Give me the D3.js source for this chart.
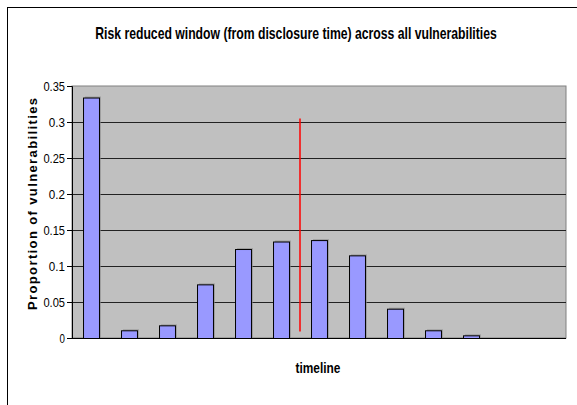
<!DOCTYPE html>
<html><head><meta charset="utf-8">
<script src="https://cdn.jsdelivr.net/npm/d3@7"></script>
<style>body{margin:0;background:#fff}svg{display:block}</style>
</head><body>
<script>
const categories = ["1","2","3","4","5","6","7","8","9","10","11","12","13"];
const values = [0.334, 0.0107, 0.0176, 0.0745, 0.1236, 0.134, 0.136, 0.1148, 0.0407, 0.0107, 0.0037, 0, 0];
const yTicks = [0, 0.05, 0.1, 0.15, 0.2, 0.25, 0.3, 0.35];
const yTickLabels = ["0", "0.05", "0.1", "0.15", "0.2", "0.25", "0.3", "0.35"];
const markerAfter = "6";
const markerRange = [0.009, 0.305];
const title = "Risk reduced window (from disclosure time) across all vulnerabilities";
const xLabel = "timeline";
const yLabel = "Proportion of vulnerabilities";

const W = 577, H = 405;
const svg = d3.select("body").append("svg").attr("width", W).attr("height", H);
const m = {left: 72, right: 566, top: 86, bottom: 338};
const narrow = "'Liberation Sans Narrow', 'Arial Narrow', Arial, 'Liberation Sans', sans-serif";

// condensed text helper: scale horizontally to a target width
function condensed(g, cx, cy, txt, size, targetW) {
  const grp = g.append("g");
  const t = grp.append("text").attr("x", 0).attr("y", 0).attr("text-anchor", "middle")
    .attr("font-family", narrow).attr("font-weight", "bold").attr("font-size", size).text(txt);
  const w = t.node().getComputedTextLength();
  const s = Math.min(1, targetW / w);
  grp.attr("transform", `translate(${cx},${cy}) scale(${s},1)`);
  return t;
}

// outer frame
svg.append("rect").attr("x", 7.5).attr("y", 7.5).attr("width", W + 10).attr("height", H + 10)
  .attr("fill", "#fff").attr("stroke", "#000").attr("stroke-width", 1);

const x = d3.scaleBand().domain(categories).range([m.left, m.right]).paddingInner(0.58).paddingOuter(0.29);
const y = d3.scaleLinear().domain([0, 0.35]).range([m.bottom, m.top]);

// plot area
svg.append("rect").attr("x", m.left).attr("y", m.top).attr("width", m.right - m.left).attr("height", m.bottom - m.top)
  .attr("fill", "#C0C0C0").attr("stroke", "#808080").attr("stroke-width", 1);

// gridlines
svg.append("g").selectAll("line").data(yTicks.filter(d => d > 0 && d < 0.35)).join("line")
  .attr("x1", m.left).attr("x2", m.right)
  .attr("y1", d => Math.round(y(d)) + 0.5).attr("y2", d => Math.round(y(d)) + 0.5)
  .attr("stroke", "#222").attr("stroke-width", 1);

// y axis
const yAxis = d3.axisLeft(y).tickValues(yTicks).tickFormat((d, i) => yTickLabels[i]).tickSize(5).tickPadding(2);
const ga = svg.append("g").attr("transform", `translate(${m.left},0)`).call(yAxis);
ga.select(".domain").attr("stroke", "#000");
ga.selectAll(".tick line").attr("stroke", "#000");
ga.selectAll("text").attr("font-family", narrow).attr("font-size", 13.5).attr("fill", "#000")
  .attr("textLength", (d, i) => yTickLabels[i].length * 5.4).attr("lengthAdjust", "spacingAndGlyphs");

// x axis baseline
svg.append("line").attr("x1", m.left).attr("x2", m.right).attr("y1", m.bottom + 0.5).attr("y2", m.bottom + 0.5)
  .attr("stroke", "#000");

// bar shadows
svg.append("g").selectAll("rect").data(values.map((v, i) => ({c: categories[i], v})).filter(d => d.v > 0)).join("rect")
  .attr("x", d => x(d.c) + 2).attr("y", d => y(d.v) - 1)
  .attr("width", x.bandwidth()).attr("height", d => m.bottom - y(d.v) + 1)
  .attr("fill", "#888").attr("opacity", 0.6);

// bars
svg.append("g").selectAll("rect").data(values.map((v, i) => ({c: categories[i], v})).filter(d => d.v > 0)).join("rect")
  .attr("x", d => x(d.c) + 0.5).attr("y", d => y(d.v) + 0.5)
  .attr("width", x.bandwidth()).attr("height", d => m.bottom - y(d.v))
  .attr("fill", "#9999FF").attr("stroke", "#000").attr("stroke-width", 1);

// red marker
const mx = x(markerAfter) + x.bandwidth() + x.step() * x.paddingInner() / 2;
svg.append("line").attr("x1", mx).attr("x2", mx).attr("y1", y(markerRange[0])).attr("y2", y(markerRange[1]))
  .attr("stroke", "#FF0000").attr("stroke-width", 1.5);

// title
condensed(svg, 296, 39, title, 16, 402);

// x label
condensed(svg, 318, 373, xLabel, 14.5, 45);

// y label
svg.append("text").attr("transform", "translate(37,204) rotate(-90)").attr("text-anchor", "middle")
  .attr("font-family", "Arial, 'Liberation Sans', sans-serif")
  .attr("font-weight", "bold").attr("font-size", 13)
  .attr("textLength", 212).attr("lengthAdjust", "spacing").text(yLabel);
</script>
</body></html>
